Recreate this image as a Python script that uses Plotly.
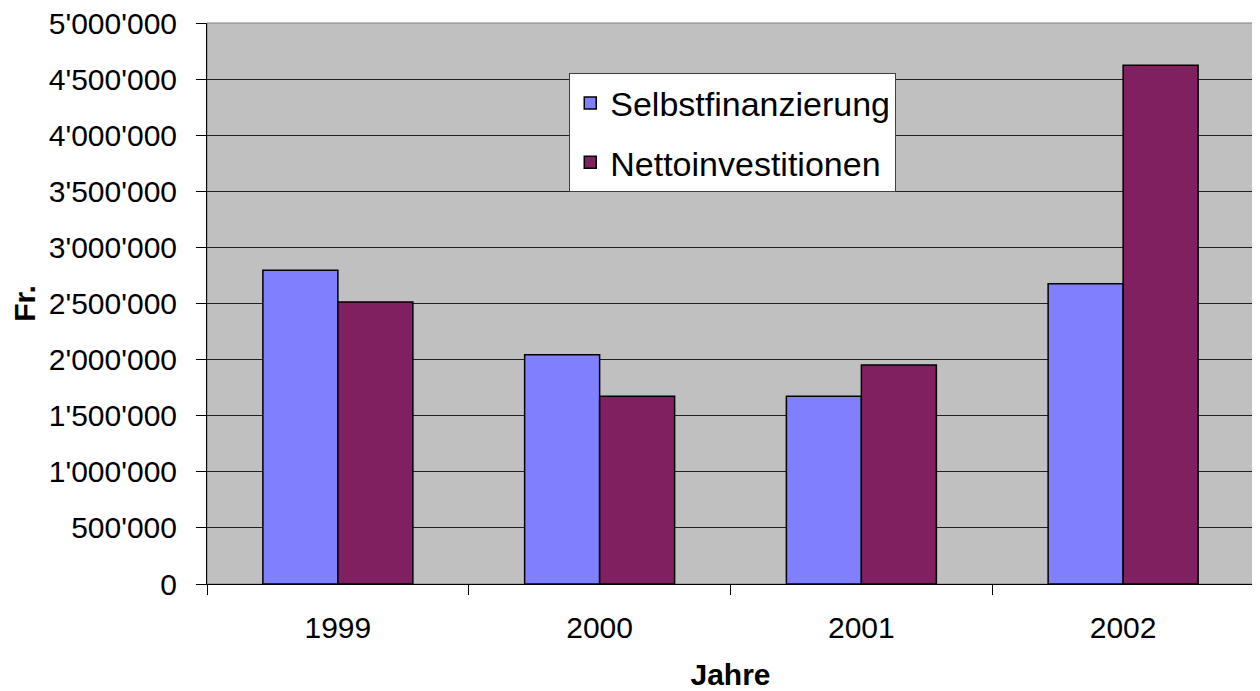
import plotly.graph_objects as go

jahre = ["1999", "2000", "2001", "2002"]
selbstfinanzierung = [2796000, 2044000, 1673000, 2676000]
nettoinvestitionen = [2513000, 1673000, 1952000, 4623000]
y_tickvals = [0, 500000, 1000000, 1500000, 2000000, 2500000, 3000000, 3500000, 4000000, 4500000, 5000000]
y_ticktext = ["0", "500'000", "1'000'000", "1'500'000", "2'000'000", "2'500'000",
              "3'000'000", "3'500'000", "4'000'000", "4'500'000", "5'000'000"]

FONT = "Liberation Sans, Arial, sans-serif"

fig = go.Figure()
fig.add_trace(go.Bar(x=jahre, y=selbstfinanzierung, name="Selbstfinanzierung",
                     marker=dict(color="#8080FF", line=dict(color="black", width=1.5)),
                     legendgroup="a"))
fig.add_trace(go.Bar(x=jahre, y=nettoinvestitionen, name="Nettoinvestitionen",
                     marker=dict(color="#802060", line=dict(color="black", width=1.5)),
                     legendgroup="b"))

fig.update_layout(
    width=1252, height=683,
    margin=dict(l=199, r=6, t=15, b=107),
    paper_bgcolor="white",
    plot_bgcolor="#C0C0C0",
    barmode="group",
    bargap=0.427,
    bargroupgap=0,
    font=dict(family=FONT, size=30, color="black"),
    showlegend=True,
    legend=dict(x=0.346, y=0.91, xanchor="left", yanchor="top",
                bgcolor="white", bordercolor="#404040", borderwidth=1,
                font=dict(size=34), traceorder="grouped", tracegroupgap=12),
    xaxis=dict(
        title=dict(text="<b>Jahre</b>", font=dict(size=30), standoff=22),
        showline=True, linecolor="black", linewidth=1,
        tickson="boundaries", ticks="outside", ticklen=10, tickcolor="black",
        ticklabelstandoff=17, automargin=False,
        showgrid=False, zeroline=False,
    ),
    yaxis=dict(
        title=dict(text="<b>Fr.</b>", font=dict(size=30), standoff=14),
        range=[0, 5000000],
        tickvals=y_tickvals, ticktext=y_ticktext,
        showline=True, linecolor="black", linewidth=1,
        ticks="outside", ticklen=10, tickcolor="black",
        ticklabelstandoff=13, ticklabeloverflow="allow", automargin=False,
        showgrid=True, gridcolor="#202020", gridwidth=1,
        zeroline=False,
    ),
    shapes=[dict(type="rect", xref="paper", yref="paper", x0=0, y0=0, x1=1, y1=1,
                 line=dict(color="#808080", width=1), layer="below")],
)

fig.write_html("out.html")
